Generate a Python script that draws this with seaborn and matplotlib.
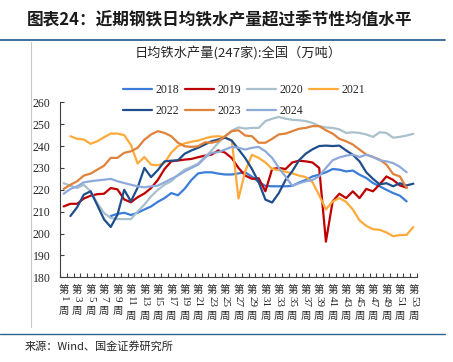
import numpy as np
import pandas as pd
import matplotlib
matplotlib.use("Agg")
import matplotlib.pyplot as plt
import matplotlib.transforms as mtransforms
from matplotlib.lines import Line2D
import seaborn as sns

nan = np.nan

# weeks 1..53
weeks = list(range(1, 54))
years = ['2018', '2019', '2020', '2021', '2022', '2023', '2024']

v2018 = [nan] * 7 + [208, 209, 209.5, 208.5, 209.5, 211, 212.4, 214.5, 216.2, 218.5,
                     217.5, 220.5, 224.5, 227.5, 228, 228, 227.4, 227, 227, 227.5,
                     228, 226, 223.5, 221.8, 221.6, 221.6, 221.6, 221.8, 223.3, 224.5,
                     226.1, 226.9, 228, 229.5, 229.2, 228.4, 228.8, 226.9, 225.4, 223.1,
                     221.6, 220, 218.5, 217.3, 214.7] + [nan]
v2019 = [212.4, 213.6, 213.6, 216, 217.3, 218, 218.2, 220.8, 220.2, 215.6,
         214.3, 216.6, 218.3, 220.8, 224.5, 229.5, 233, 233.4, 233.8, 234.1,
         234.9, 235.6, 236.1, 238, 237, 234.5, 230, 226.5, 225, 225.3,
         219.3, 229.5, 230, 229.5, 232.5, 233.3, 233, 232.5, 230, 196.3,
         214.7, 218.2, 216.2, 219.3, 216.2, 220.4, 219.3, 222.5, 226.1, 224.5,
         222, 221, nan]
v2020 = [223, 221.9, 220.8, 222.3, 219.3, 213.9, 209.4, 207.1, 206.6, 206.6,
         206.6, 210.1, 213.2, 217, 220, 222.3, 223.9, 226.9, 229.2, 230.5,
         232, 235, 238, 241.5, 244.5, 247, 248.5, 248, 248.3, 248.3,
         251.4, 252.5, 253.3, 252.5, 252, 251.8, 251.4, 250.6, 249.1, 248.5,
         248.3, 247.6, 246, 246.3, 246, 245.3, 244.2, 246.3, 246, 243.8,
         244.2, 244.8, 245.6]
v2021 = [nan, 244.5, 243.3, 243, 241, 242.2, 244, 245.7, 245.7, 245,
         240.5, 232, 235, 231.5, 231.2, 232.3, 237, 240, 241.2, 242,
         242.5, 243.5, 244.3, 244.5, 244, 242.5, 216, 228.5, 236, 234.6,
         232.5, 229.5, 229, 228.3, 227.5, 226.5, 225.8, 223.5, 217.5, 211,
         214.7, 216.2, 214.5, 211, 206, 203.5, 202, 201.7, 200.5, 198.8,
         199.3, 199.4, 203]
v2022 = [nan, 208, 212, 217.8, 219.3, 213, 206.5, 203, 208.6, 220,
         214.7, 221, 230, 225.8, 229, 233, 233.3, 233.5, 236.5, 238,
         239.2, 240.7, 242.2, 243, 243.8, 242.5, 238.5, 234.5, 229.5, 223.5,
         215.5, 214.2, 218.5, 224.5, 228.5, 233.5, 236.5, 238.5, 240, 240.2,
         240, 240.2, 238, 236, 233, 228, 225, 222.5, 223, 221.6,
         223, 222, 222.8]
v2023 = [220.4, 222.3, 223.9, 226.5, 227.4, 229.2, 231, 234.6, 234.6, 236.9,
         237.6, 239.2, 242.9, 245.3, 246.8, 246, 244.5, 241.5, 239.9, 239.6,
         239.9, 241.7, 241.5, 242.2, 244.5, 246.8, 247.2, 244.8, 244.5, 241.5,
         241.5, 243.3, 245.3, 245.7, 246.8, 247.9, 248.3, 249.1, 249.1, 247.2,
         245.7, 243.3, 242.2, 240.7, 238.4, 236.1, 235, 233.8, 231.5, 227.2,
         226.1, 220.8, nan]
v2024 = [218.2, 220.4, 221.6, 223.4, 223.9, 224.3, 224.6, 225, 223.9, 223.1,
         222.3, 221.6, 221.1, 221.6, 221.9, 223.4, 225, 226.5, 228.4, 230,
         231.5, 234.6, 236.9, 237.2, 238.4, 239.6, 239.2, 238.4, 239.2, 239.6,
         237.6, 234.6, 230, 226, 221.8, 223, 223.9, 224.5, 226.2, 230,
         233.5, 234.8, 235.6, 236.1, 235, 236, 235, 233.5, 233, 232.2,
         230.5, 228, nan]

colors = {'2018': '#3b7dd8', '2019': '#c00000', '2020': '#a9c0cd', '2021': '#ffaa3a',
          '2022': '#1f4e8c', '2023': '#e0823a', '2024': '#8eaadb'}

series = [v2018, v2019, v2020, v2021, v2022, v2023, v2024]
for s in series:
    assert len(s) == 53

df = pd.DataFrame({
    'week': weeks * len(years),
    'year': [y for y in years for _ in weeks],
    'value': [v for s in series for v in s],
}).dropna()

sns.set_style("ticks")
plt.rcParams['font.family'] = ['Noto Sans CJK SC', 'DejaVu Sans']
cjk = ['Noto Sans CJK SC', 'DejaVu Sans']
serif = ['Liberation Serif', 'Noto Sans CJK SC']

W, H = 453, 362
fig = plt.figure(figsize=(W / 100, H / 100), dpi=100)
ax = fig.add_axes([60.3 / W, 1 - 277.3 / H, (416.7 - 60.3) / W, (277.3 - 102.3) / H])

sns.lineplot(data=df, x='week', y='value', hue='year', hue_order=years,
             palette=colors, linewidth=1.6, ax=ax)

ax.set_xlim(0.5, 53.5)
ax.set_ylim(180, 260)
ax.set_yticks(range(180, 261, 10))
ax.set_xticks(np.arange(0.5, 54, 1))
ax.set_xticklabels([])
ax.set_xlabel('')
ax.set_ylabel('')
ax.tick_params(axis='both', direction='in', length=3, width=0.8, color='#404040')
ax.tick_params(axis='y', pad=7, labelsize=8.5)
for lab in ax.get_yticklabels():
    lab.set_family(serif)
    lab.set_color('#262626')
for side in ['top', 'right']:
    ax.spines[side].set_visible(False)
for side in ['left', 'bottom']:
    ax.spines[side].set_color('#404040')
    ax.spines[side].set_linewidth(0.8)

# vertical x labels: 第 / number rotated / 周
trans = mtransforms.blended_transform_factory(ax.transData, ax.transAxes)
for w in range(1, 54, 2):
    n = len(str(w))
    ax.annotate('第', xy=(w, 0), xycoords=trans, xytext=(0, -8), textcoords='offset pixels',
                ha='center', va='top', fontsize=7.5, family=cjk, color='#262626')
    ax.annotate(str(w), xy=(w, 0), xycoords=trans, xytext=(0, -19), textcoords='offset pixels',
                ha='center', va='top', rotation=-90, fontsize=8, family=serif, color='#262626')
    ax.annotate('周', xy=(w, 0), xycoords=trans, xytext=(0, -19 - 5 * n - 5), textcoords='offset pixels',
                ha='center', va='top', fontsize=7.5, family=cjk, color='#262626')

# legend: row-major order in 4 columns
handles, labels = ax.get_legend_handles_labels()
order = [0, 4, 1, 5, 2, 6, 3]
ax.legend([handles[i] for i in order], [labels[i] for i in order], ncol=4,
          loc='upper center', bbox_to_anchor=(244 / W, 1 - 78 / H), bbox_transform=fig.transFigure,
          frameon=False, prop={'family': serif, 'size': 8.5}, handlelength=2.5,
          handletextpad=0.3, columnspacing=0.45, labelspacing=0.8, borderpad=0)

# subtitle, title, source
fig.text(238 / W, 1 - 54 / H, '日均铁水产量(247家):全国（万吨）', ha='center', va='center',
         fontsize=9.5, family=cjk, color='#262626')
fig.text(27 / W, 1 - 20 / H, '图表24：近期钢铁日均铁水产量超过季节性均值水平', ha='left', va='center',
         fontsize=12, fontweight='bold', family=cjk, color='#1a1a1a')
fig.text(25 / W, 1 - 346 / H, '来源：Wind、国金证券研究所', ha='left', va='center',
         fontsize=8, family=cjk, color='#262626')

fig.add_artist(Line2D([0, 445 / W], [1 - 39.5 / H] * 2, color='#2f6393', lw=1.3))
fig.add_artist(Line2D([0, 445 / W], [1 - 333.5 / H] * 2, color='#2f6393', lw=1.0))
fig.add_artist(Line2D([30.7 / W] * 2, [1 - 42 / H, 1 - 327 / H], color='#c8c8c8', lw=0.8))

fig.savefig('out.png', dpi=100)
